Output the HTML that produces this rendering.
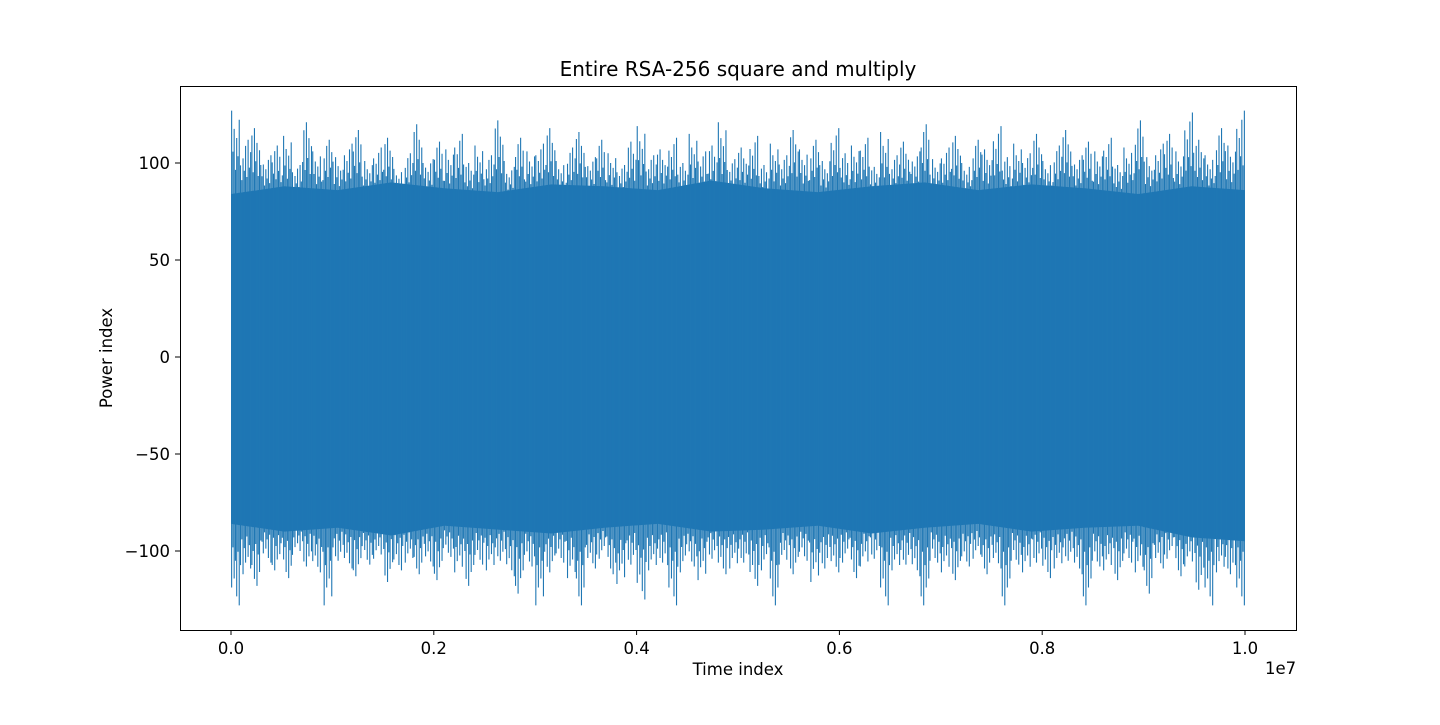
<!DOCTYPE html>
<html><head><meta charset="utf-8"><style>
body{margin:0;background:#fff;}
svg text{font-family:"DejaVu Sans","Liberation Sans",sans-serif;fill:#000;}
</style></head><body>
<svg width="1440" height="720" id="chart">
<rect width="1440" height="720" fill="#fff"/>
<g id="marks"></g>
<rect x="180.5" y="86.5" width="1116" height="544" fill="none" stroke="#000" stroke-width="1"/>
<g id="axes"></g>
<text x="738" y="76" font-size="20" text-anchor="middle">Entire RSA-256 square and multiply</text>
<text x="738" y="675" font-size="16.5" text-anchor="middle">Time index</text>
<text x="112" y="358" font-size="16.5" text-anchor="middle" transform="rotate(-90 112 358)">Power index</text>
<text x="1265" y="674" font-size="16.5" text-anchor="start">1e7</text>
</svg>
<script>
const xTicks=[0,0.2,0.4,0.6,0.8,1.0];
const xTickLabels=["0.0","0.2","0.4","0.6","0.8","1.0"];
const yTicks=[100,50,0,-50,-100];
const yTickLabels=["100","50","0","\u221250","\u2212100"];
const upperPeaks=[127,112,118,104,109,114,99,121,106,112,103,110,117,101,108,113,97,105,120,102,111,107,115,100,109,104,122,98,113,106,110,118,101,108,116,103,112,105,99,111,119,104,107,113,100,115,106,109,121,102,108,114,99,110,104,117,107,112,101,118,105,109,113,98,116,104,111,106,120,102,108,114,100,112,107,119,103,110,105,115,101,109,117,104,111,106,113,99,108,122,103,110,115,106,126,112,104,118,109,127];
const lowerPeaks=[-128,-112,-118,-106,-110,-114,-102,-108,-111,-128,-105,-109,-113,-107,-104,-116,-110,-106,-112,-108,-115,-103,-111,-118,-107,-110,-105,-113,-122,-108,-128,-111,-106,-114,-128,-109,-104,-112,-117,-107,-125,-110,-106,-128,-111,-108,-115,-104,-112,-109,-106,-118,-110,-128,-107,-112,-105,-116,-109,-111,-106,-114,-108,-104,-128,-110,-107,-113,-128,-106,-111,-115,-108,-104,-112,-109,-128,-107,-111,-106,-114,-109,-105,-112,-128,-108,-110,-115,-106,-111,-122,-109,-104,-113,-108,-120,-128,-111,-112,-128];
const coreUpper=[84,88,86,90,87,85,89,88,86,91,87,85,88,90,86,89,87,84,88,86];
const coreLower=[-86,-90,-88,-92,-87,-89,-91,-88,-86,-90,-89,-87,-91,-88,-86,-90,-88,-87,-93,-95];
const frac=[1,0.55,0.8,0.35,0.7,0.5,0.9,0.4];
const NS="http://www.w3.org/2000/svg";
function sx(v){return 231+v*1014;}
function sy(v){return 357-v*1.94;}
const marks=document.getElementById('marks');
const axes=document.getElementById('axes');
function mk(tag,attrs,parent){const e=document.createElementNS(NS,tag);for(const k in attrs)e.setAttribute(k,attrs[k]);parent.appendChild(e);return e;}
const C="#1f77b4";
{
  const n=coreUpper.length;let pts=[];
  for(let i=0;i<n;i++){pts.push(sx(i/(n-1))+","+sy(coreUpper[i]));}
  for(let i=n-1;i>=0;i--){pts.push(sx(i/(n-1))+","+sy(coreLower[i]));}
  const p=mk('polygon',{points:pts.join(' '),fill:C},marks);
  
  
}
const N=upperPeaks.length, K=8;
for(let i=0;i<N;i++){
  for(let k=0;k<K;k++){
    const t=(i+(k+0.5)/K)/N;
    const fu=frac[(k+i*3)%K], fl=frac[(k+i*5+2)%K];
    const uv=80+(upperPeaks[i]-80)*fu;
    const lv=-82+(lowerPeaks[i]+82)*fl;
    const l=mk('line',{x1:sx(t),x2:sx(t),y1:sy(uv),y2:sy(lv),stroke:C,'stroke-width':1.1},marks);
    
    
  }
}
xTicks.forEach((v,i)=>{
  const x=sx(v);
  const t=mk('line',{x1:x,x2:x,y1:630,y2:635,stroke:'#000'},axes);
  
  
  const tx=mk('text',{x:x,y:654,'font-size':16.5,'text-anchor':'middle'},axes);
  tx.textContent=xTickLabels[i];
  
  
});
yTicks.forEach((v,i)=>{
  const y=sy(v);
  const t=mk('line',{x1:175,x2:180,y1:y,y2:y,stroke:'#000'},axes);
  
  
  const tx=mk('text',{x:170,y:y+6,'font-size':16.5,'text-anchor':'end'},axes);
  tx.textContent=yTickLabels[i];
  
  
});
</script>
</body></html>
